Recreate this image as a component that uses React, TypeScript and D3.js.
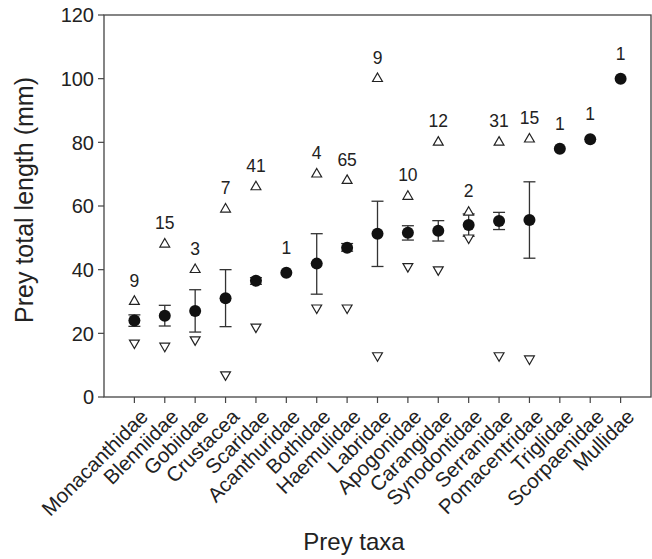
import * as d3 from 'd3';

const taxa = [
  'Monacanthidae', 'Blenniidae', 'Gobiidae', 'Crustacea', 'Scaridae', 'Acanthuridae',
  'Bothidae', 'Haemulidae', 'Labridae', 'Apogonidae', 'Carangidae', 'Synodontidae',
  'Serranidae', 'Pomacentridae', 'Triglidae', 'Scorpaenidae', 'Mullidae',
];
const meanLen = [24, 25.5, 27, 31, 36.5, 39, 41.9, 46.9, 51.3, 51.6, 52.2, 54, 55.3, 55.6, 78, 81, 100];
const seHigh = [25.8, 28.8, 33.7, 40, 37.5, null, 51.3, 48.2, 61.5, 53.8, 55.4, 57.5, 58, 67.6, null, null, null];
const seLow = [22.2, 22.3, 20.4, 22.1, 35.4, null, 32.3, 45.8, 41, 49.3, 49, 50.5, 52.6, 43.6, null, null, null];
const maxLen = [30, 48, 40, 59, 66, null, 70, 68, 100, 63, 80, 58, 80, 81, null, null, null];
const minLen = [17, 16, 18, 7, 22, null, 28, 28, 13, 41, 40, 50, 13, 12, null, null, null];
const nCount = [9, 15, 3, 7, 41, 1, 4, 65, 9, 10, 12, 2, 31, 15, 1, 1, 1];
const yTicks = [0, 20, 40, 60, 80, 100, 120];

const width = 652;
const height = 559;
const margin = { top: 15, right: 1, bottom: 162, left: 104 };
const font = '"Liberation Sans", Arial, sans-serif';
const ink = '#222';

const App = () => {
  const innerW = width - margin.left - margin.right;
  const innerH = height - margin.top - margin.bottom;

  const x = d3.scalePoint<string>().domain(taxa).range([0, innerW]).padding(1);
  const y = d3.scaleLinear().domain([0, 120]).range([innerH, 0]);

  const tri = d3.symbol().type(d3.symbolTriangle).size(42)();
  const cap = 6;

  return (
    <div style={{ position: 'absolute', left: 0, top: 0 }}>
      <svg width={width} height={height} style={{ display: 'block', fontFamily: font }}>
        <g transform={`translate(${margin.left},${margin.top})`}>
          {/* frame */}
          <rect x={0} y={0} width={innerW} height={innerH} fill="none" stroke="#444" strokeWidth={1.3} />

          {/* y axis */}
          {yTicks.map((t) => (
            <g key={t} transform={`translate(0,${y(t)})`}>
              <line x1={-6} x2={0} stroke="#444" strokeWidth={1.2} />
              <text x={-10} dy="0.36em" textAnchor="end" fontSize={20} fill={ink}>{t}</text>
            </g>
          ))}

          {/* x axis, labels slanted */}
          {taxa.map((d) => (
            <g key={d} transform={`translate(${x(d)},${innerH})`}>
              <line y1={0} y2={6} stroke="#444" strokeWidth={1.2} />
              <text transform="translate(15,21) rotate(-45)" textAnchor="end" fontSize={20.5} fill={ink}>{d}</text>
            </g>
          ))}

          {/* mean ± SE, max / min triangles, n */}
          {taxa.map((d, i) => {
            const cx = x(d)!;
            const hi = seHigh[i];
            const lo = seLow[i];
            const mx = maxLen[i];
            const mn = minLen[i];
            const top = mx != null ? y(mx) - 15 : y(meanLen[i]) - 19;
            return (
              <g key={d}>
                {hi != null && lo != null && (
                  <g stroke="#333" strokeWidth={1.3}>
                    <line x1={cx} x2={cx} y1={y(hi)} y2={y(lo)} />
                    <line x1={cx - cap} x2={cx + cap} y1={y(hi)} y2={y(hi)} />
                    <line x1={cx - cap} x2={cx + cap} y1={y(lo)} y2={y(lo)} />
                  </g>
                )}
                {mx != null && (
                  <path d={tri!} transform={`translate(${cx},${y(mx)})`} fill="white" stroke={ink} strokeWidth={1.2} />
                )}
                {mn != null && (
                  <path d={tri!} transform={`translate(${cx},${y(mn)}) rotate(180)`} fill="white" stroke={ink} strokeWidth={1.2} />
                )}
                <circle cx={cx} cy={y(meanLen[i])} r={6} fill="#111" />
                <text x={cx} y={top} textAnchor="middle" fontSize={17.5} fill={ink}>{nCount[i]}</text>
              </g>
            );
          })}

          {/* titles */}
          <text x={250} y={innerH + 153} textAnchor="middle" fontSize={24} fill={ink}>Prey taxa</text>
          <text transform={`translate(${-71},${185}) rotate(-90)`} textAnchor="middle" fontSize={25} fill={ink}>
            Prey total length (mm)
          </text>
        </g>
      </svg>
    </div>
  );
};

export default App;
